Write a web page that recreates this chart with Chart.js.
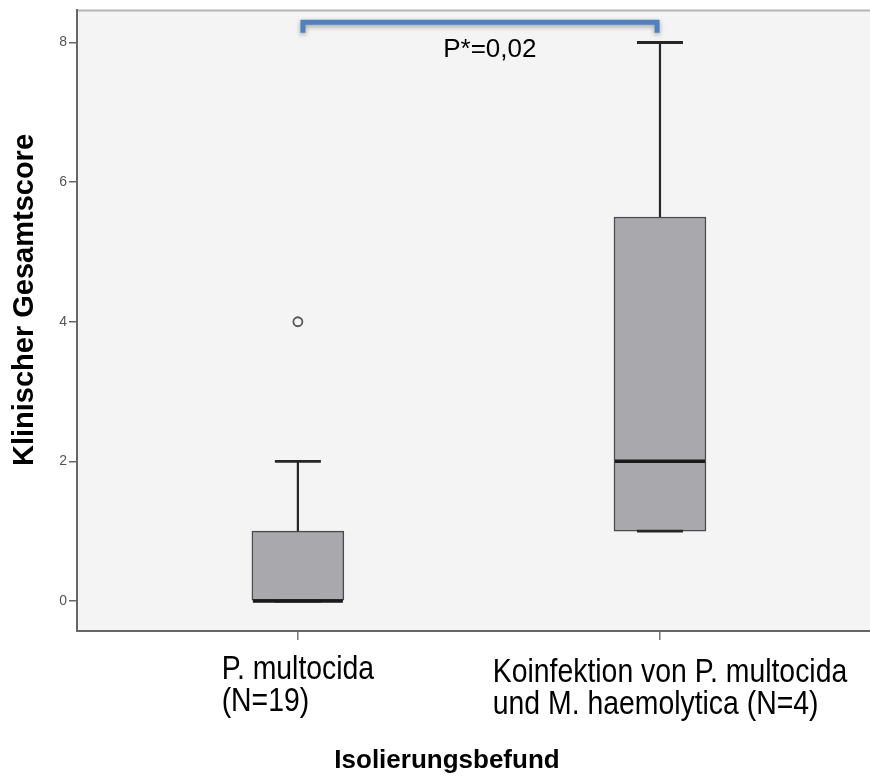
<!DOCTYPE html>
<html>
<head>
<meta charset="utf-8">
<script src="https://cdn.jsdelivr.net/npm/chart.js@4.4.1/dist/chart.umd.min.js"></script>
<style>
    html, body { margin: 0; padding: 0; background: #ffffff; }
    #wrap { width: 870px; height: 776px; }
</style>
</head>
<body>
<div id="wrap"><canvas id="boxChart" width="870" height="776"></canvas></div>
<script>
// groups on the x axis (1 = first box, 2 = second box)
const groupX = [1, 2];
const groupLabels = [
    ['P. multocida', '(N=19)'],
    ['Koinfektion von P. multocida', 'und M. haemolytica (N=4)']
];

// box plot statistics per group
const whiskerLow = [0, 1];
const q1 = [0, 1];
const median = [0, 2];
const q3 = [1, 5.5];
const whiskerHigh = [2, 8];

// outliers
const outlierX = [1];
const outlierY = [4];

const yTickValues = [0, 2, 4, 6, 8];

// significance bracket between the two groups
const pLabel = 'P*=0,02';
const bracketTop = 8.29;
const bracketEnd = 8.14;

const yTitle = 'Klinischer Gesamtscore';
const xTitle = 'Isolierungsbefund';

const colors = {
    plotBg: '#f4f4f4',
    axis: '#666666',
    frame: '#b4b4b4',
    boxFill: '#a9a8ad',
    boxLine: '#4a4a4a',
    whisker: '#262626',
    median: '#1a1a1a',
    bracket: '#4f81bd',
    text: '#000000',
    tickText: '#555555'
};

const plotPlugin = {
    id: 'plotDecor',
    beforeDraw(chart) {
        const { ctx, chartArea: a } = chart;
        ctx.save();
        ctx.fillStyle = colors.plotBg;
        ctx.fillRect(a.left, a.top, a.right - a.left, a.bottom - a.top);
        ctx.strokeStyle = colors.frame;
        ctx.lineWidth = 2;
        ctx.beginPath();
        ctx.moveTo(a.left, a.top);
        ctx.lineTo(a.right, a.top);
        ctx.stroke();
        ctx.restore();
    },
    beforeDatasetDraw(chart, args) {
        if (args.meta.type === 'line') {
            const ctx = chart.ctx;
            ctx.save();
            ctx.shadowColor = 'rgba(0, 0, 0, 0.35)';
            ctx.shadowBlur = 5;
            ctx.shadowOffsetY = 2;
        }
    },
    afterDatasetDraw(chart, args) {
        if (args.meta.type === 'line') chart.ctx.restore();
    },
    afterDatasetsDraw(chart) {
        const { ctx, scales: { x, y } } = chart;
        const bars = chart.getDatasetMeta(0).data;
        ctx.save();
        groupX.forEach((gx, i) => {
            const cx = x.getPixelForValue(gx);
            const half = bars[i].width / 2;
            const capHalf = half / 2;

            // whiskers
            ctx.strokeStyle = colors.whisker;
            ctx.lineWidth = 2.2;
            ctx.beginPath();
            ctx.moveTo(cx, y.getPixelForValue(q3[i]));
            ctx.lineTo(cx, y.getPixelForValue(whiskerHigh[i]));
            ctx.moveTo(cx, y.getPixelForValue(q1[i]));
            ctx.lineTo(cx, y.getPixelForValue(whiskerLow[i]));
            ctx.stroke();

            ctx.lineWidth = 2.8;
            ctx.beginPath();
            [whiskerHigh[i], whiskerLow[i]].forEach(v => {
                const py = y.getPixelForValue(v);
                ctx.moveTo(cx - capHalf, py);
                ctx.lineTo(cx + capHalf, py);
            });
            ctx.stroke();

            // median
            ctx.strokeStyle = colors.median;
            ctx.lineWidth = 3.5;
            ctx.beginPath();
            const my = y.getPixelForValue(median[i]);
            ctx.moveTo(cx - half + 1, my);
            ctx.lineTo(cx + half - 1, my);
            ctx.stroke();
        });

        // p value text
        ctx.fillStyle = colors.text;
        ctx.font = '26px "Liberation Sans", Arial, sans-serif';
        ctx.textAlign = 'center';
        ctx.textBaseline = 'middle';
        ctx.fillText(pLabel, x.getPixelForValue(1.53), y.getPixelForValue(7.9));
        ctx.restore();
    },
    afterDraw(chart) {
        const { ctx, scales: { x } } = chart;
        ctx.save();
        ctx.fillStyle = colors.text;
        ctx.textBaseline = 'alphabetic';

        // category labels, left aligned block centred under the tick
        const squeeze = 0.86;
        ctx.font = '33px "Liberation Sans", Arial, sans-serif';
        ctx.textAlign = 'left';
        groupLabels.forEach((lines, i) => {
            const w = Math.max(...lines.map(l => ctx.measureText(l).width)) * squeeze;
            const left = x.getPixelForValue(groupX[i]) - w / 2 + i * 10;
            lines.forEach((line, j) => {
                ctx.save();
                ctx.translate(left, 679 + i * 3 + j * 32);
                ctx.scale(squeeze, 1);
                ctx.fillText(line, 0, 0);
                ctx.restore();
            });
        });

        // axis titles
        ctx.textAlign = 'center';
        ctx.font = 'bold 26px "Liberation Sans", Arial, sans-serif';
        ctx.fillText(xTitle, 447, 768);

        ctx.font = 'bold 29px "Liberation Sans", Arial, sans-serif';
        ctx.translate(33, 300);
        ctx.rotate(-Math.PI / 2);
        ctx.fillText(yTitle, 0, 0);
        ctx.restore();
    }
};

const ctx = document.getElementById('boxChart').getContext('2d');

new Chart(ctx, {
    data: {
        datasets: [
            {
                type: 'bar',
                data: groupX.map((gx, i) => ({ x: gx, y: [q1[i], q3[i]] })),
                backgroundColor: colors.boxFill,
                borderColor: colors.boxLine,
                borderWidth: 1.5,
                borderSkipped: false,
                barThickness: 92
            },
            {
                type: 'scatter',
                data: outlierX.map((ox, i) => ({ x: ox, y: outlierY[i] })),
                pointStyle: 'circle',
                pointRadius: 4.5,
                pointBorderWidth: 1.8,
                borderColor: '#555555',
                backgroundColor: 'rgba(0,0,0,0)'
            },
            {
                type: 'line',
                data: [
                    { x: groupX[0] + 0.014, y: bracketEnd },
                    { x: groupX[0] + 0.014, y: bracketTop },
                    { x: groupX[1] - 0.008, y: bracketTop },
                    { x: groupX[1] - 0.008, y: bracketEnd }
                ],
                borderColor: colors.bracket,
                borderWidth: 5,
                borderCapStyle: 'butt',
                borderJoinStyle: 'miter',
                pointRadius: 0,
                tension: 0,
                fill: false
            }
        ]
    },
    options: {
        responsive: false,
        animation: false,
        devicePixelRatio: 1,
        layout: { autoPadding: false, padding: { top: 10, right: 0, left: 0, bottom: 0 } },
        plugins: {
            legend: { display: false },
            tooltip: { enabled: false }
        },
        scales: {
            x: {
                type: 'linear',
                min: 0.39,
                max: 2.58,
                offset: false,
                afterBuildTicks: scale => { scale.ticks = groupX.map(v => ({ value: v })); },
                afterFit: scale => { scale.height = 145; },
                ticks: { display: false },
                grid: {
                    offset: false,
                    drawOnChartArea: false,
                    drawTicks: true,
                    tickLength: 9,
                    color: '#777777',
                    lineWidth: 1.5
                },
                border: { display: true, color: colors.axis, width: 2 }
            },
            y: {
                type: 'linear',
                min: -0.43,
                max: 8.46,
                afterBuildTicks: scale => { scale.ticks = yTickValues.map(v => ({ value: v })); },
                afterFit: scale => { scale.width = 77; },
                ticks: {
                    color: colors.tickText,
                    font: { size: 14, family: "'Liberation Sans', Arial, sans-serif" },
                    padding: 2
                },
                grid: {
                    drawOnChartArea: false,
                    drawTicks: true,
                    tickLength: 8,
                    color: colors.axis,
                    lineWidth: 1.5
                },
                border: { display: true, color: colors.axis, width: 2 }
            }
        }
    },
    plugins: [plotPlugin]
});
</script>
</body>
</html>
